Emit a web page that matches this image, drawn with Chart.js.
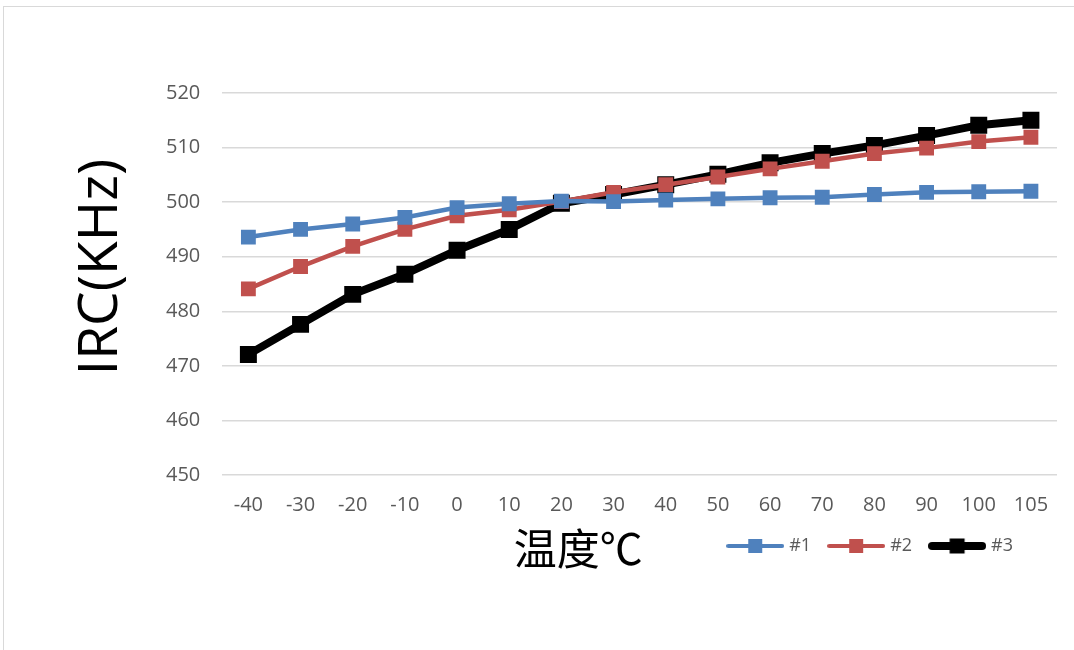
<!DOCTYPE html>
<html>
<head>
<meta charset="utf-8">
<script src="https://cdn.jsdelivr.net/npm/chart.js@4.4.1/dist/chart.umd.min.js"></script>
<style>
  body { margin: 0; background: #fff; }
  #wrap { position: relative; width: 1074px; height: 650px; }
  #frame {
    position: absolute; left: 3px; top: 6px; right: 0; bottom: 0;
    border-left: 1px solid #d9d9d9; border-top: 1px solid #d9d9d9;
  }
  canvas { position: relative; }
</style>
</head>
<body>
<div id="wrap">
  <div id="frame"></div>
  <canvas id="irc-chart" width="1074" height="650"></canvas>
</div>
<script>
const temps = ["-40", "-30", "-20", "-10", "0", "10", "20", "30", "40", "50", "60", "70", "80", "90", "100", "105"];
const irc1 = [493.6, 495.0, 496.0, 497.2, 499.0, 499.7, 500.2, 500.1, 500.4, 500.6, 500.8, 500.9, 501.4, 501.8, 501.9, 502.0];
const irc2 = [484.1, 488.2, 491.9, 495.0, 497.5, 498.6, 500.1, 501.8, 503.2, 504.6, 506.1, 507.5, 508.9, 509.9, 511.1, 511.9];
const irc3 = [472.1, 477.6, 483.1, 486.8, 491.2, 495.0, 499.8, 501.4, 503.2, 505.1, 507.2, 508.9, 510.4, 512.2, 514.1, 515.0];
const yTicks = [450, 460, 470, 480, 490, 500, 510, 520];
const seriesNames = ["#1", "#2", "#3"];
const xTitleText = "温度℃";
const yTitleText = "IRC(KHz)";

const blue = "#4f81bd";
const red = "#c0504d";
const black = "#000000";
const tickColor = "#595959";
const font = "'Open Sans', 'Noto Sans', sans-serif";

// little line + square pictures for the legend
const legendIcon = (color, lineWidth, side) => {
  const c = document.createElement("canvas");
  c.width = 58;
  c.height = 18;
  const ctx = c.getContext("2d");
  ctx.strokeStyle = color;
  ctx.lineWidth = lineWidth;
  ctx.lineCap = "round";
  ctx.beginPath();
  ctx.moveTo(lineWidth / 2, 9);
  ctx.lineTo(58 - lineWidth / 2, 9);
  ctx.stroke();
  ctx.fillStyle = color;
  ctx.fillRect(29 - side / 2, 9 - side / 2, side, side);
  return c;
};
const icons = [legendIcon(blue, 4, 14), legendIcon(red, 4, 14), legendIcon(black, 8, 15)];

// axis titles sit off-centre in the original, so place them by hand
const axisTitles = {
  id: "axisTitles",
  afterDraw(chart) {
    const ctx = chart.ctx;
    const area = chart.chartArea;
    ctx.save();
    ctx.fillStyle = "#000";
    ctx.textAlign = "center";
    ctx.textBaseline = "middle";
    ctx.font = "43px 'Noto Sans CJK SC', sans-serif";
    ctx.fillText(xTitleText, area.left + 356, 549);
    ctx.translate(101, area.top + 174);
    ctx.rotate(-Math.PI / 2);
    ctx.font = "55px " + font;
    ctx.fillText(yTitleText, 0, 0);
    ctx.restore();
  },
};

const moveLegend = {
  id: "moveLegend",
  afterLayout(chart) {
    chart.legend.left -= 24;
    chart.legend.right -= 24;
    chart.legend.top -= 10;
    chart.legend.bottom -= 10;
  },
};

const makeSet = (label, data, color, width, radius) => ({
  label: label,
  data: data,
  borderColor: color,
  backgroundColor: color,
  borderWidth: width,
  pointStyle: "rect",
  pointRadius: radius,
  pointBorderWidth: 0,
  tension: 0,
});

const config = {
  type: "line",
  data: {
    labels: temps,
    datasets: [
      makeSet(seriesNames[0], irc1, blue, 4.5, 10.5),
      makeSet(seriesNames[1], irc2, red, 4.5, 10.5),
      makeSet(seriesNames[2], irc3, black, 8, 12),
    ],
  },
  options: {
    responsive: false,
    animation: false,
    layout: {
      padding: { left: 144, top: 93, right: 17, bottom: 75 },
    },
    plugins: {
      tooltip: { enabled: false },
      legend: {
        position: "bottom",
        align: "end",
        labels: {
          usePointStyle: true,
          pointStyleWidth: 50,
          padding: 20,
          color: tickColor,
          font: { family: font, size: 18 },
          generateLabels: (chart) =>
            Chart.defaults.plugins.legend.labels
              .generateLabels(chart)
              .map((item, i) => ({ ...item, pointStyle: icons[i] })),
        },
      },
    },
    scales: {
      x: {
        offset: true,
        grid: { display: false },
        border: { display: false },
        ticks: {
          padding: 10,
          color: tickColor,
          font: { family: font, size: 20 },
          maxRotation: 0,
        },
      },
      y: {
        min: yTicks[0],
        max: yTicks[yTicks.length - 1],
        afterBuildTicks: (scale) => {
          scale.ticks = yTicks.map((v) => ({ value: v }));
        },
        grid: { color: "#d9d9d9", lineWidth: 1.5, drawTicks: false },
        border: { display: false },
        ticks: {
          padding: 22,
          color: tickColor,
          font: { family: font, size: 20 },
        },
      },
    },
  },
  plugins: [axisTitles, moveLegend],
};

const ircChart = new Chart(document.getElementById("irc-chart"), config);
</script>
</body>
</html>
